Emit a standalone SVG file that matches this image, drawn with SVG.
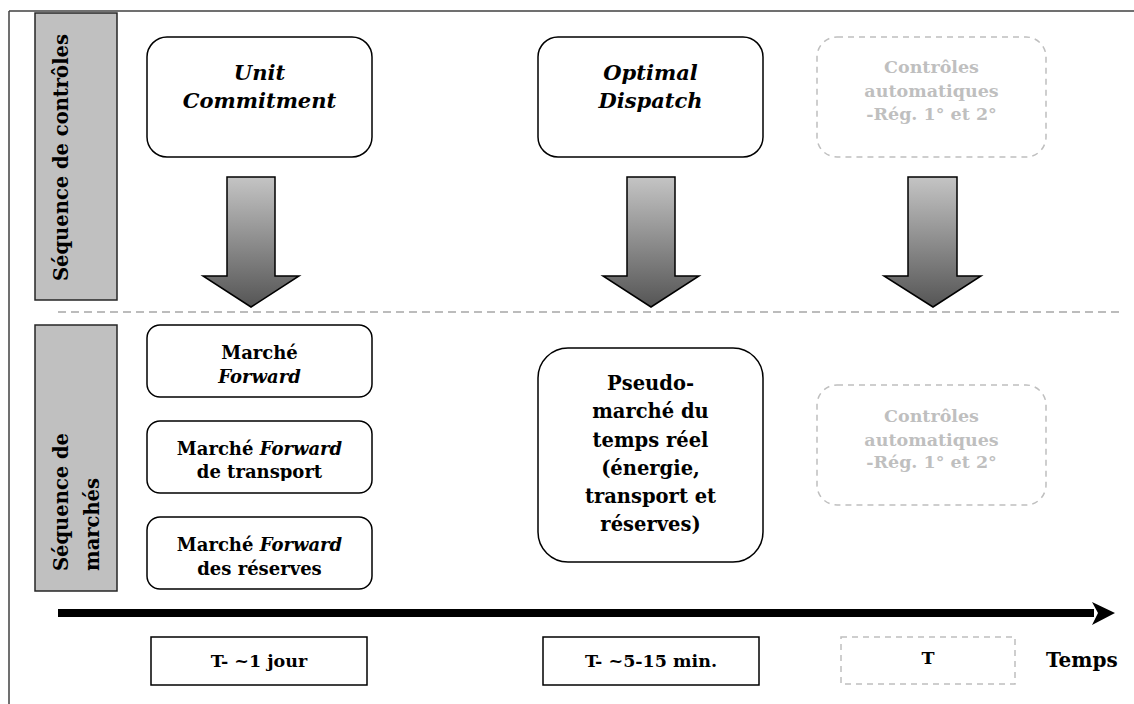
<svg xmlns="http://www.w3.org/2000/svg" width="1134" height="704" viewBox="0 0 1134 704">
<style>
text{font-family:"DejaVu Serif","Liberation Serif",serif;font-weight:bold;text-anchor:middle;fill:#000}
.it{font-style:italic}
.box{fill:#fff;stroke:#000;stroke-width:1.5}
.dbox{fill:#fff;stroke:#bfbfbf;stroke-width:1.5;stroke-dasharray:6 5}
.gt{fill:#bfbfbf}
.lab{fill:#c0c0c0;stroke:#262626;stroke-width:1.5}
.arr{fill:url(#g);stroke:#000;stroke-width:1.5;stroke-linejoin:miter}
.vl{text-anchor:start;font-size:19.5px}
</style>
<defs>
<linearGradient id="g" x1="0" y1="0" x2="0" y2="1">
<stop offset="0" stop-color="#c4c4c4"/>
<stop offset="1" stop-color="#555"/>
</linearGradient>
<clipPath id="c2"><rect x="147" y="421" width="225" height="60"/></clipPath>
</defs>
<rect width="1134" height="704" fill="#fff"/>
<g id="frame" stroke="#404040" stroke-width="1.5">
<line x1="9" y1="11" x2="1134" y2="11"/>
<line x1="9" y1="11" x2="9" y2="704"/>
</g>
<g id="sep"><line x1="58" y1="312" x2="1122" y2="312" stroke="#a6a6a6" stroke-width="1.5" stroke-dasharray="8 5"/></g>
<g id="label-controles">
<rect class="lab" x="35" y="13" width="82" height="287"/>
<text class="vl" transform="translate(68,281) rotate(-90)">Séquence de contrôles</text>
</g>
<g id="label-marches">
<rect class="lab" x="35" y="325" width="82" height="266"/>
<text class="vl" transform="translate(68,571) rotate(-90)">Séquence de</text>
<text class="vl" transform="translate(99,571) rotate(-90)">marchés</text>
</g>
<g id="unit-commitment">
<rect class="box" x="147" y="37" width="225" height="120" rx="20"/>
<text class="it" x="259.5" y="80" font-size="21">Unit</text>
<text class="it" x="259.5" y="108" font-size="21">Commitment</text>
</g>
<g id="optimal-dispatch">
<rect class="box" x="538" y="37" width="225" height="120" rx="20"/>
<text class="it" x="650.5" y="80" font-size="21">Optimal</text>
<text class="it" x="650.5" y="108" font-size="21">Dispatch</text>
</g>
<g id="controles-top">
<rect class="dbox" x="817" y="37" width="229" height="120" rx="20"/>
<text class="gt" x="931.5" y="73" font-size="17.5">Contrôles</text>
<text class="gt" x="931.5" y="97" font-size="17.5">automatiques</text>
<text class="gt" x="931.5" y="120" font-size="17.5">-Rég. 1° et 2°</text>
</g>
<g id="connectors">
<polygon class="arr" points="227,177 275,177 275,276 299,276 251,307 203,276 227,276"/>
<polygon class="arr" points="627,177 675,177 675,276 699,276 651,307 603,276 627,276"/>
<polygon class="arr" points="908,177 957,177 957,276 981,276 933,307 884,276 908,276"/>
<rect x="58" y="609" width="1036" height="8" fill="#000"/>
<polygon points="1092,602 1115,613 1092,625 1098,613" fill="#000"/>
</g>
<g id="marche-forward">
<rect class="box" x="147" y="325" width="225" height="72" rx="13"/>
<text x="259.5" y="359" font-size="18">Marché</text>
<text class="it" x="259.5" y="383" font-size="18">Forward</text>
</g>
<g id="marche-transport">
<rect class="box" x="147" y="421" width="225" height="72" rx="13"/>
<g clip-path="url(#c2)">
<text x="259.5" y="455" font-size="18">Marché  <tspan class="it">Forward</tspan></text>
<text x="259.5" y="478" font-size="18">de transport</text>
</g>
</g>
<g id="marche-reserves">
<rect class="box" x="147" y="517" width="225" height="72" rx="13"/>
<text x="259.5" y="551" font-size="18">Marché  <tspan class="it">Forward</tspan></text>
<text x="259.5" y="575" font-size="18">des réserves</text>
</g>
<g id="pseudo-marche">
<rect class="box" x="538" y="348" width="225" height="214" rx="30"/>
<text x="650.5" y="390" font-size="19.5">Pseudo-</text>
<text x="650.5" y="418" font-size="19.5">marché du</text>
<text x="650.5" y="447" font-size="19.5">temps réel</text>
<text x="650.5" y="475" font-size="19.5">(énergie,</text>
<text x="650.5" y="503" font-size="19.5">transport et</text>
<text x="650.5" y="531" font-size="19.5">réserves)</text>
</g>
<g id="controles-bottom">
<rect class="dbox" x="817" y="385" width="229" height="120" rx="20"/>
<text class="gt" x="931.5" y="422" font-size="17.5">Contrôles</text>
<text class="gt" x="931.5" y="446" font-size="17.5">automatiques</text>
<text class="gt" x="931.5" y="468" font-size="17.5">-Rég. 1° et 2°</text>
</g>
<g id="t-1jour">
<rect x="151" y="637" width="216" height="48" fill="#fff" stroke="#000" stroke-width="1.5"/>
<text x="259" y="667" font-size="17.5">T- ~1 jour</text>
</g>
<g id="t-5-15">
<rect x="543" y="637" width="216" height="48" fill="#fff" stroke="#000" stroke-width="1.5"/>
<text x="651" y="667" font-size="17.5">T- ~5-15 min.</text>
</g>
<g id="t">
<rect class="dbox" x="841" y="637" width="174" height="47"/>
<text x="928" y="664" font-size="17.5">T</text>
</g>
<g id="temps">
<text x="1046" y="667" font-size="20" style="text-anchor:start">Temps</text>
</g>
</svg>
